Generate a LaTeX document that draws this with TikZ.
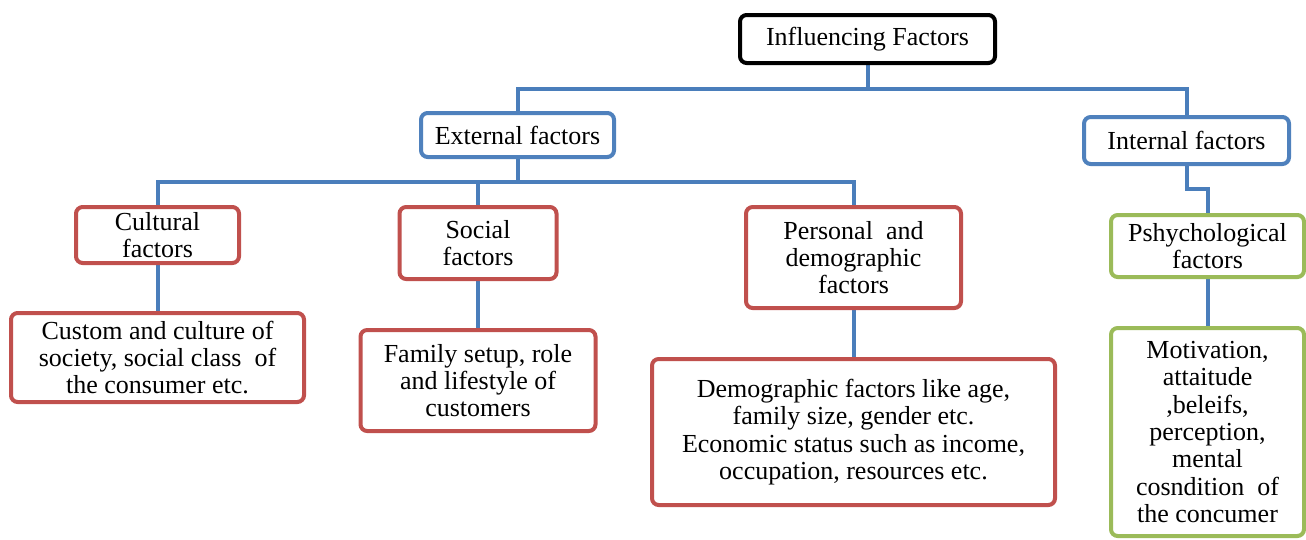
\documentclass[tikz,border=0pt]{standalone}
\usepackage{fontspec}
\setmainfont{Liberation Serif}
\usetikzlibrary{backgrounds}
\definecolor{connblue}{HTML}{4A7EBB}
\definecolor{boxblue}{HTML}{4F81BD}
\definecolor{boxred}{HTML}{C0504D}
\definecolor{boxgreen}{HTML}{9BBB59}
\begin{document}
\begin{tikzpicture}[x=0.75pt,y=-0.75pt,
  box/.style={draw, fill=white, line width=3pt, rounded corners=5pt, align=center,
    inner sep=0pt, font=\fontsize{19.5}{20.5}\selectfont},
  topbox/.style={box, draw=black},
  bluebox/.style={box, draw=boxblue},
  redbox/.style={box, draw=boxred},
  greenbox/.style={box, draw=boxgreen},
  conn/.style={draw=connblue, line width=3pt}]
\useasboundingbox (0,0) rectangle (1306,539);
% nodes
\node[topbox, minimum width=255*0.75pt, minimum height=48*0.75pt] (top) at (867.5,39) {Influencing Factors};
\node[bluebox, minimum width=193*0.75pt, minimum height=44*0.75pt] (ext) at (517.5,135) {External factors};
\node[bluebox, minimum width=205*0.75pt, minimum height=47*0.75pt] (int) at (1186.5,140.5) {Internal factors};
\node[redbox, minimum width=163*0.75pt, minimum height=56*0.75pt] (cult) at (157.5,235) {Cultural\\factors};
\node[redbox, minimum width=157*0.75pt, minimum height=72*0.75pt] (soc) at (478,243) {Social\\factors};
\node[redbox, minimum width=215*0.75pt, minimum height=101*0.75pt] (pers) at (853.5,257.5) {Personal~ and\\demographic\\factors};
\node[greenbox, minimum width=193*0.75pt, minimum height=62*0.75pt] (psy) at (1207.5,246) {Pshychological\\factors};
\node[redbox, minimum width=293*0.75pt, minimum height=89*0.75pt] (cust) at (157.5,357.5) {Custom and culture of\\society, social class~ of\\the consumer etc.};
\node[redbox, minimum width=235*0.75pt, minimum height=101*0.75pt] (fam) at (478,380.5) {Family setup, role\\and lifestyle of\\customers};
\node[redbox, minimum width=403*0.75pt, minimum height=146*0.75pt] (demo) at (853.5,432) {Demographic factors like age,\\family size, gender etc.\\Economic status such as income,\\occupation, resources etc.};
\node[greenbox, minimum width=193*0.75pt, minimum height=208*0.75pt] (mot) at (1207.5,432) {Motivation,\\attaitude\\,beleifs,\\perception,\\mental\\cosndition~ of\\the concumer};
% connectors
\coordinate (j1) at (867.5,89);
\coordinate (j2) at (517.5,182);
\coordinate (j3) at (1186.5,189);
\begin{scope}[on background layer]
\path[conn] (top.south) -- (j1) -| (ext.north);
\path[conn] (j1) -| (int.north);
\path[conn] (ext.south) -- (j2) -| (cult.north);
\path[conn] (j2) -| (pers.north);
\path[conn] (soc.north) -- (soc.north |- j2);
\path[conn] (int.south) -- (j3) -| (psy.north);
\path[conn] (cult.south) -- (cust.north);
\path[conn] (soc.south) -- (fam.north);
\path[conn] (pers.south) -- (demo.north);
\path[conn] (psy.south) -- (mot.north);
\end{scope}
\end{tikzpicture}
\end{document}
